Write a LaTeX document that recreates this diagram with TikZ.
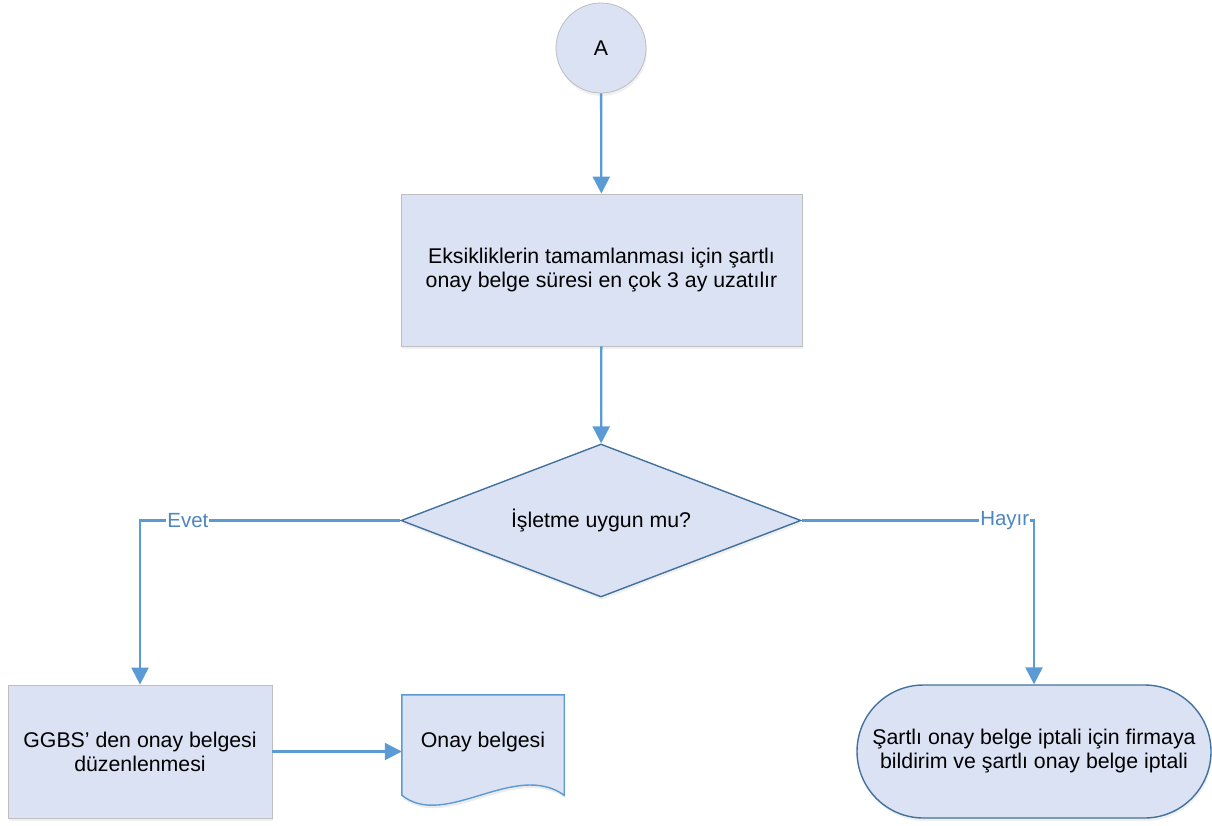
\documentclass[tikz,border=0pt]{standalone}
\usepackage{fontspec}
\setmainfont{Liberation Sans}
\usetikzlibrary{arrows.meta,shapes.geometric,shapes.misc,shadows}
\definecolor{boxfill}{RGB}{218,226,243}
\definecolor{graybord}{RGB}{190,190,190}
\definecolor{lineblue}{RGB}{91,155,213}
\definecolor{darkbord}{RGB}{65,113,156}
\definecolor{lblblue}{RGB}{78,134,192}
\begin{document}
\begin{tikzpicture}[x=1pt,y=-1pt,
  font=\fontsize{21.3}{24}\selectfont,
  shade/.style={drop shadow={opacity=0.12,shadow xshift=1pt,shadow yshift=-3pt}},
  grayshape/.style={draw=graybord,line width=0.8pt,fill=boxfill,shade,align=center,inner sep=0pt},
  blueshape/.style={draw=darkbord,line width=1.4pt,fill=boxfill,shade,align=center,inner sep=0pt},
  conn/.style={draw=lineblue,line width=2.3pt,-{Triangle[length=17pt,width=17pt]}},
  lbl/.style={fill=white,text=lblblue,inner sep=1pt,font=\fontsize{20.5}{22}\selectfont}]
\useasboundingbox (0,0) rectangle (1212,825);
\node[grayshape,circle,minimum size=90pt] (A) at (601,48) {A};
\node[grayshape,rectangle,minimum width=401pt,minimum height=152pt] (B) at (601.5,270)
  {Eksikliklerin tamamlanması için şartlı\\onay belge süresi en çok 3 ay uzatılır};
\node[blueshape,diamond,aspect=2.6,minimum width=400pt,minimum height=153pt] (C) at (601,520.5)
  {İşletme uygun mu?};
\node[grayshape,rectangle,minimum width=264pt,minimum height=133pt] (D) at (140,751.5)
  {GGBS’ den onay belgesi\\düzenlenmesi};
\node[rectangle,minimum width=162pt,minimum height=100pt,inner sep=0pt] (E) at (483,745) {};
\coordinate (Ew1) at (445,830);
\coordinate (Ew2) at (515,760);
\fill[black,opacity=0.08] ([shift={(1,3)}]E.north west) -- ([shift={(1,3)}]E.north east) -- ([shift={(1,3)}]E.south east)
  .. controls ([shift={(1,3)}]Ew2) and ([shift={(1,3)}]Ew1) .. ([shift={(1,3)}]E.south west) -- cycle;
\draw[draw=lineblue,line width=1.4pt,fill=boxfill] (E.north west) -- (E.north east) -- (E.south east)
  .. controls (Ew2) and (Ew1) .. (E.south west) -- cycle;
\node at ([yshift=3pt]E.center) {Onay belgesi};
\node[blueshape,rounded rectangle,minimum width=354pt,minimum height=133pt] (F) at (1034,751.5)
  {Şartlı onay belge iptali için firmaya\\bildirim ve şartlı onay belge iptali};
\draw[conn] (A) -- (B);
\draw[conn] (B) -- (C);
\draw[conn] (C.west) -| node[lbl,pos=0.408] {Evet} (D.north);
\draw[conn] (C.east) -| node[lbl,pos=0.437] {Hayır} (F.north);
\draw[conn] (D.east) -- (D.east -| E.west);
\end{tikzpicture}
\end{document}
